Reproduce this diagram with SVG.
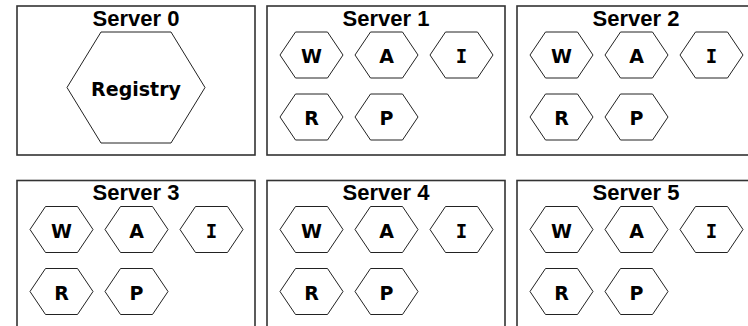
<svg xmlns="http://www.w3.org/2000/svg" width="748" height="326" viewBox="0 0 748 326">
<style>
.box{fill:#fff;stroke:#333;stroke-width:1.6}
.hex{fill:#fff;stroke:#222;stroke-width:1}
.title{font-family:"Liberation Sans",Arial,sans-serif;font-weight:bold;font-size:22px;fill:#000;text-anchor:middle}
.lbl{font-family:"DejaVu Sans",Verdana,sans-serif;font-weight:bold;font-size:19px;fill:#000;text-anchor:middle}
.mono{font-family:"DejaVu Sans Mono",monospace}
</style>
<defs>
<polygon id="hx" class="hex" points="0,23 15.5,0 47.5,0 63,23 47.5,46 15.5,46"/>
<g id="svc">
<use href="#hx" x="13" y="26"/><text class="lbl" x="44.5" y="57">W</text>
<use href="#hx" x="88" y="26"/><text class="lbl" x="119.5" y="57">A</text>
<use href="#hx" x="163" y="26"/><text class="lbl mono" x="194.5" y="57">I</text>
<use href="#hx" x="13" y="88"/><text class="lbl" x="44.5" y="119">R</text>
<use href="#hx" x="88" y="88"/><text class="lbl" x="119.5" y="119">P</text>
</g>
</defs>
<rect width="748" height="326" fill="#fff"/>
<g id="server0">
<rect class="box" x="17" y="6" width="238" height="149"/>
<text class="title" x="136" y="25.5">Server 0</text>
<g id="registry">
<polygon class="hex" points="67,87.5 101,32 171,32 205,87.5 171,143 101,143"/>
<text class="lbl" x="136" y="96">Registry</text>
</g>
</g>
<g id="server1">
<rect class="box" x="267" y="6" width="238" height="149"/>
<text class="title" x="386" y="25.5">Server 1</text>
<use href="#svc" x="267" y="6"/>
</g>
<g id="server2">
<rect class="box" x="517" y="6" width="238" height="149"/>
<text class="title" x="636" y="25.5">Server 2</text>
<use href="#svc" x="517" y="6"/>
</g>
<g id="server3">
<rect class="box" x="17" y="180.5" width="238" height="149"/>
<text class="title" x="136" y="200">Server 3</text>
<use href="#svc" x="17" y="180.5"/>
</g>
<g id="server4">
<rect class="box" x="267" y="180.5" width="238" height="149"/>
<text class="title" x="386" y="200">Server 4</text>
<use href="#svc" x="267" y="180.5"/>
</g>
<g id="server5">
<rect class="box" x="517" y="180.5" width="238" height="149"/>
<text class="title" x="636" y="200">Server 5</text>
<use href="#svc" x="517" y="180.5"/>
</g>
<g id="connectors"></g>
</svg>
